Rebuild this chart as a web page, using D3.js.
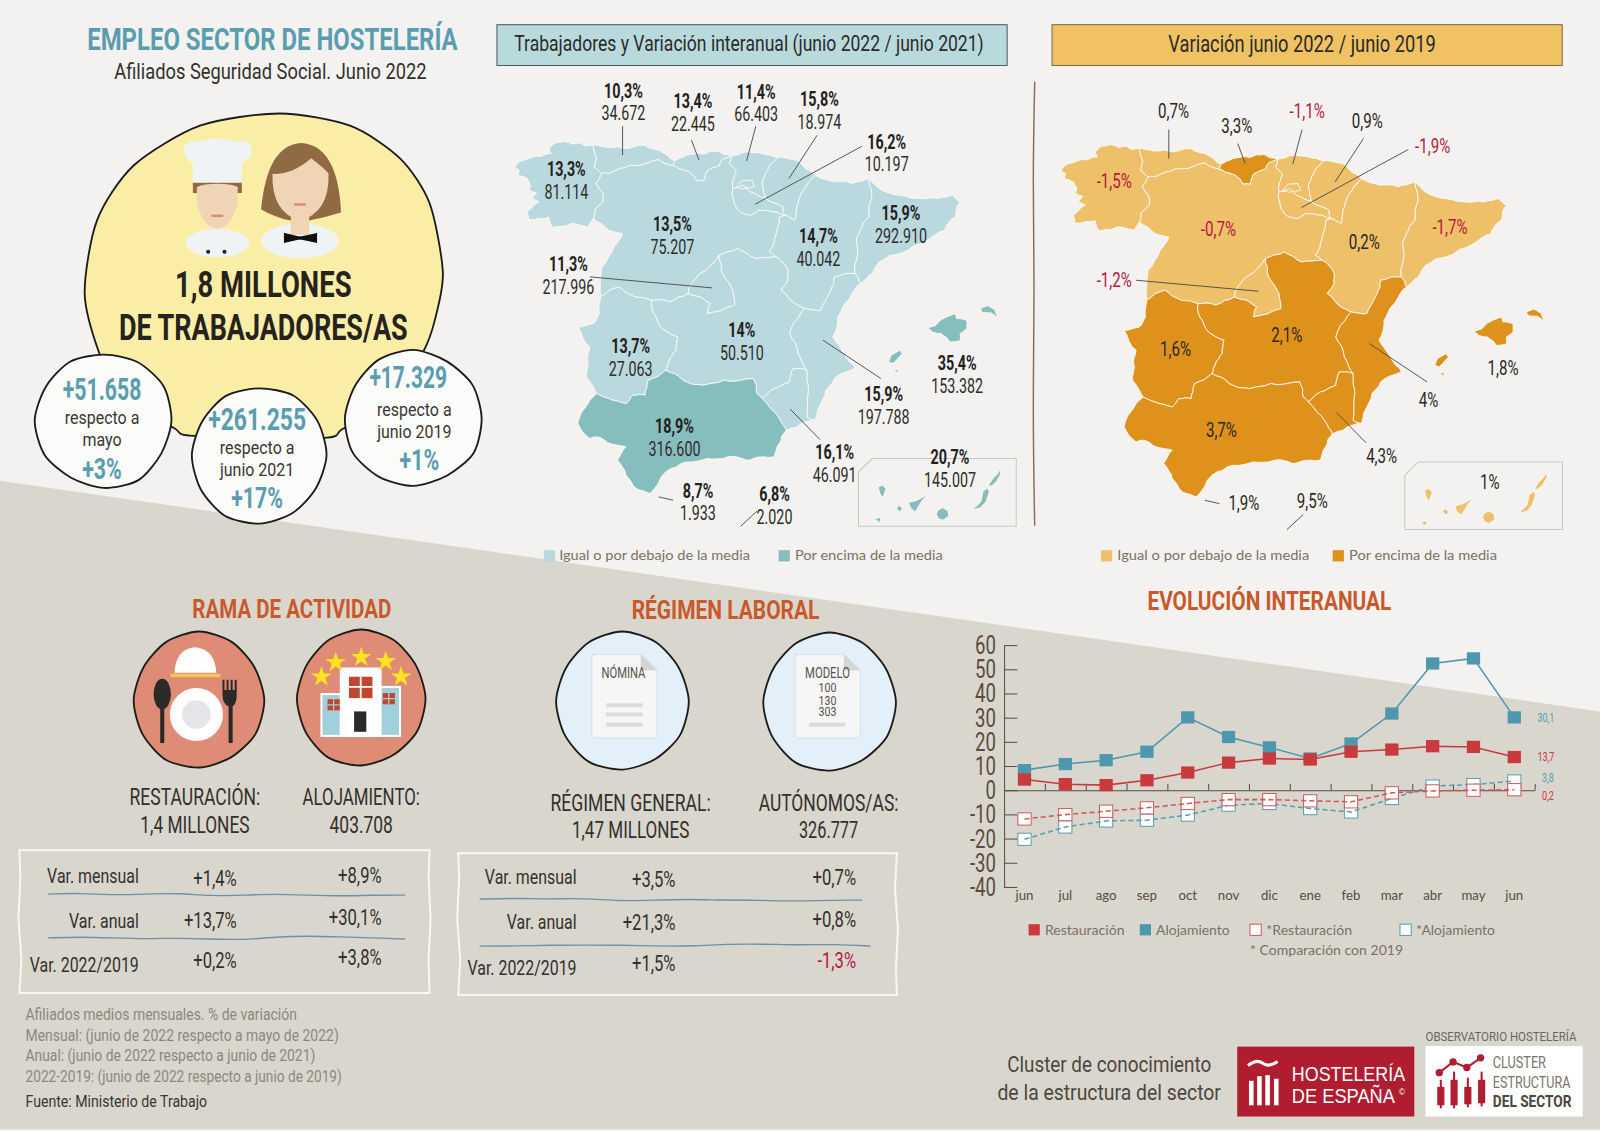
<!doctype html>
<html>
<head>
<meta charset="UTF-8">
<title>Empleo sector de hostelería</title>
<script src="https://d3js.org/d3.v7.min.js"></script>
<style>
  html,body{margin:0;padding:0;background:#f3f2f0}
  svg{display:block}
</style>
</head>
<body>
<svg id="c" width="1600" height="1131" viewBox="0 0 1568 1108"></svg>
<script>
// ---- data ----
var regions = ["Galicia","Asturias","Cantabria","País Vasco","Navarra","La Rioja","Aragón","Cataluña","Castilla y León","Madrid","Castilla-La Mancha","Extremadura","C. Valenciana","Murcia","Andalucía","Baleares","Canarias","Ceuta","Melilla"];
var varInteranual = [13.3,10.3,13.4,11.4,15.8,16.2,14.7,15.9,13.5,11.3,14,13.7,15.9,16.1,18.9,35.4,20.7,8.7,6.8];
var trabajadores = [81114,34672,22445,66403,18974,10197,40042,292910,75207,217996,50510,27063,197788,46091,316600,153382,145007,1933,2020];
var var2019 = [-1.5,0.7,3.3,-1.1,0.9,-1.9,0.2,-1.7,-0.7,-1.2,2.1,1.6,4,4.3,3.7,1.8,1,1.9,9.5];
var mediaInteranual = 17, media2019 = 1;

var meses = ["jun","jul","ago","sep","oct","nov","dic","ene","feb","mar","abr","may","jun"];
var restauracion = [4.4,2.5,2.1,4.1,7.3,11.4,13.1,12.7,15.9,16.8,18.2,17.9,13.7];
var alojamiento = [8.3,10.8,12.4,15.9,30.1,22,17.7,13.1,19.3,31.7,52.4,54.5,30.1];
var restauracion19 = [-11.9,-10.1,-8.7,-7.3,-5.5,-3.9,-3.9,-4.4,-4.8,-1.1,-0.3,0,0.2];
var alojamiento19 = [-20.3,-15.2,-12.7,-12.4,-10.3,-6.2,-5.5,-7.6,-9,-3.4,1.7,2.3,3.8];
var yTicks = [60,50,40,30,20,10,0,-10,-20,-30,-40];

var filasVar = ["Var. mensual","Var. anual","Var. 2022/2019"];
var ramaRest = [1.4,13.7,0.2], ramaAloj = [8.9,30.1,3.8];
var regGeneral = [3.5,21.3,1.5], regAutonomos = [0.7,0.8,-1.3];
var burbujas = ["+51.658","+261.255","+17.329"];
var burbujasPct = ["+3%","+17%","+1%"];
var burbujasTxt = [["respecto a","mayo"],["respecto a","junio 2021"],["respecto a","junio 2019"]];
var notas = ["Afiliados medios mensuales. % de variación","Mensual: (junio de 2022 respecto a mayo de 2022)","Anual: (junio de 2022 respecto a junio de 2021)","2022-2019: (junio de 2022 respecto a junio de 2019)"];

// region outlines (map units)
var shapes = {
 "Galicia":[[[298,225],[280,228],[262,218],[240,222],[215,213],[190,218],[172,235],[178,250],[150,258],[130,258],[105,268],[85,275],[72,292],[85,300],[82,315],[108,325],[118,345],[112,358],[135,368],[122,385],[142,395],[122,412],[108,425],[112,448],[140,445],[170,440],[175,460],[185,472],[215,468],[235,460],[262,465],[285,470],[300,445],[305,420],[328,395],[328,370],[308,340],[325,310],[303,290],[310,262]]],
 "Asturias":[[[298,225],[340,232],[400,235],[450,225],[490,240],[536,272],[531,287],[490,268],[440,285],[410,285],[375,295],[345,310],[325,310],[303,290],[310,262]]],
 "Cantabria":[[[536,272],[571,255],[621,252],[661,242],[701,257],[676,267],[666,287],[631,302],[621,332],[601,332],[581,307],[551,297],[531,287]]],
 "País Vasco":[[[701,257],[745,245],[790,250],[835,262],[800,310],[790,340],[800,385],[755,365],[735,345],[705,355],[705,330],[715,300],[695,280]]],
 "Navarra":[[[835,262],[890,270],[945,315],[920,345],[900,380],[890,420],[885,450],[855,435],[850,410],[800,385],[790,340],[800,310]]],
 "La Rioja":[[[705,355],[735,345],[755,365],[800,385],[850,410],[855,435],[830,425],[780,420],[755,435],[725,425],[708,395]]],
 "Aragón":[[[945,315],[1000,335],[1050,340],[1100,325],[1108,385],[1100,440],[1075,480],[1065,520],[1060,610],[1000,620],[990,660],[960,720],[915,715],[885,700],[845,660],[865,630],[865,600],[830,560],[810,545],[825,510],[840,440],[855,435],[885,450],[890,420],[900,380],[920,345]]],
 "Cataluña":[[[1100,325],[1130,355],[1190,375],[1250,385],[1300,385],[1345,375],[1365,395],[1350,440],[1320,480],[1270,510],[1190,550],[1130,575],[1110,610],[1075,640],[1060,610],[1065,520],[1075,480],[1100,440],[1108,385]]],
 "Castilla y León":[[[325,310],[345,310],[375,295],[410,285],[440,285],[490,268],[531,287],[551,297],[581,307],[601,332],[621,332],[631,302],[666,287],[676,267],[701,257],[695,280],[715,300],[705,330],[705,355],[708,395],[725,425],[755,435],[780,420],[830,425],[855,435],[840,440],[825,510],[810,545],[830,560],[770,565],[720,535],[665,555],[610,610],[585,640],[575,670],[520,695],[470,690],[420,680],[375,650],[321,680],[325,590],[360,530],[385,490],[345,480],[300,445],[305,420],[328,395],[328,370],[308,340]]],
 "Madrid":[[[665,555],[610,610],[585,640],[575,670],[640,700],[630,730],[710,705],[705,660],[675,610]]],
 "Castilla-La Mancha":[[[665,555],[720,535],[770,565],[830,560],[865,600],[865,630],[845,660],[885,700],[915,715],[905,725],[870,790],[895,850],[920,900],[880,895],[870,935],[825,955],[790,985],[775,970],[765,925],[680,930],[620,945],[560,930],[510,900],[520,870],[540,840],[545,800],[500,775],[475,730],[470,690],[520,695],[575,670],[640,700],[630,730],[710,705],[705,660],[675,610]]],
 "Extremadura":[[[321,680],[375,650],[420,680],[470,690],[475,730],[500,775],[545,800],[540,840],[520,870],[510,900],[460,930],[450,975],[415,975],[395,1000],[345,985],[310,970],[280,920],[285,880],[290,830],[255,770],[300,760],[318,730]]],
 "C. Valenciana":[[[1060,610],[1075,640],[1040,690],[1010,740],[995,800],[1040,870],[1060,895],[1000,925],[975,960],[955,1010],[945,1050],[920,1040],[925,960],[920,900],[895,850],[870,790],[905,725],[915,715],[960,720],[990,660],[1000,620]]],
 "Murcia":[[[945,1050],[915,1055],[890,1070],[860,1080],[840,1045],[790,985],[825,955],[870,935],[880,895],[920,900],[925,960],[920,1040]]],
 "Andalucía":[[[860,1080],[840,1120],[825,1160],[790,1160],[745,1170],[690,1160],[630,1165],[570,1175],[510,1205],[465,1270],[425,1255],[395,1215],[370,1170],[395,1130],[370,1125],[315,1100],[290,1105],[255,1060],[285,1000],[310,970],[345,985],[395,1000],[415,975],[450,975],[460,930],[510,900],[560,930],[620,945],[680,930],[765,925],[775,970],[790,985],[840,1045]]],
 "Baleares":[[[1272,772],[1295,765],[1330,738],[1350,730],[1355,745],[1385,752],[1385,775],[1365,790],[1365,812],[1335,815],[1310,790],[1285,785]],[[1423,715],[1445,706],[1465,718],[1475,742],[1455,728],[1430,727]],[[1157,875],[1165,855],[1190,840],[1197,850],[1180,870],[1170,880]],[[1172,897],[1190,900],[1180,906]]],
 "Canarias":[[[1127,1250],[1140,1245],[1150,1255],[1145,1272],[1140,1283],[1132,1270]],[[1115,1348],[1135,1340],[1132,1358],[1125,1352]],[[1180,1314],[1188,1305],[1198,1315],[1190,1325]],[[1215,1297],[1240,1290],[1272,1272],[1255,1290],[1235,1325],[1222,1315]],[[1296,1332],[1300,1320],[1315,1312],[1330,1322],[1332,1338],[1315,1350],[1302,1345]],[[1400,1320],[1425,1295],[1432,1262],[1445,1253],[1450,1265],[1440,1295],[1425,1312]],[[1447,1245],[1460,1225],[1475,1210],[1477,1195],[1484,1210],[1470,1235],[1455,1248]]],
 "Ceuta":[[[472,1285],[478,1285],[476,1289]]],
 "Melilla":[[[722,1368],[727,1368],[725,1372]]]
};
var insetBox = [[1070,1205],[1110,1165],[1528,1165],[1528,1368],[1070,1368],[1070,1205]];
var trevino = [[715,352],[730,332],[760,330],[768,350],[735,356],[715,352]];
var leaders = [[[385,168],[385,255]],[[585,210],[607,270]],[[772,168],[745,272]],[[950,195],[868,325]],[[1080,228],[770,402]],[[290,620],[645,653]],[[967,810],[1135,925]],[[872,1017],[958,1108]],[[490,1280],[532,1290]],[[775,1323],[728,1368]]];

// label layout, same order as regions
var posA = [[555,166],[611,89],[679,99],[741,90],[803,97],[869,139],[802,232],[883,209],[659,220],[557,259],[727,324],[618,339],[866,386],[818,443],[661,418],[938,356],[931,448],[684,481],[759,484]];
var posB = [[1092,177],[1150,109],[1212,123],[1281,109],[1340,118],[1404,143],[1337,237],[1421,222],[1194,224],[1092,274],[1261,328],[1152,342],[1400,392],[1354,447],[1197,421],[1473,360],[1460,472],[1219,493],[1286,491]];

// ---- helpers ----
// no condensed face is installed, so text gets squeezed with textLength
var NARROW = "'Roboto','Noto Sans',sans-serif";
var WIDE = "'Lato','Noto Sans',sans-serif";
var DARK = "#2e2a26", TEAL = "#5a9db0", ORANGE = "#c9592a", ROSE = "#b5193f", BROWN = "#5a4c3d";
var es = d3.formatLocale({decimal:",",thousands:".",grouping:[3],currency:["","€"],minus:"-"});
var fmtInt = es.format(",d");
var fmtPct = function(v){ return es.format(".1~f")(v)+"%"; };
var fmtSigned = function(v){ return es.format("+.1~f")(v)+"%"; };

var svg = d3.select("#c");

function squeeze(sel,k){
  sel.each(function(){
    d3.select(this).attr("textLength",this.getComputedTextLength()*k).attr("lengthAdjust","spacingAndGlyphs");
  });
}
function txt(g,x,y,s,o){
  o = o||{};
  var t = g.append("text").attr("x",x).attr("y",y).text(s)
    .attr("text-anchor",o.anchor||"middle")
    .attr("dominant-baseline","central")
    .attr("font-family",o.font||NARROW)
    .attr("font-size",o.size||16)
    .attr("font-weight",o.weight||"normal")
    .attr("fill",o.fill||DARK);
  if(o.w) t.attr("textLength",o.w).attr("lengthAdjust","spacingAndGlyphs");
  else if(o.k) squeeze(t,o.k);
  return t;
}
var closedCurve = d3.line().curve(d3.curveCardinalClosed.tension(0.2));
function blob(g,cx,cy,rx,ry,wob,fill,stroke){
  var pts = wob.map(function(k,i){
    var a = i/wob.length*2*Math.PI;
    return [cx+rx*k*Math.cos(a), cy+ry*k*Math.sin(a)];
  });
  return g.append("path").attr("d",closedCurve(pts)).attr("fill",fill).attr("stroke",stroke||"#1d1b19").attr("stroke-width",1.8);
}
function poly(g,pts,fill,stroke,sw){
  return g.append("path").attr("d",d3.line()(pts)+"Z").attr("fill",fill).attr("stroke",stroke||"none").attr("stroke-width",sw||0);
}
// jag the traced edges; keyed on the two end points so neighbouring regions stay glued together
function jag(a,b,depth){
  if(depth===0) return [];
  var flip = a[0]>b[0] || (a[0]===b[0] && a[1]>b[1]);
  var p = flip?b:a, q = flip?a:b;
  var h = Math.sin(p[0]*12.9898+p[1]*78.233+q[0]*37.719+q[1]*11.135)*43758.5453;
  h = (h-Math.floor(h))*2-1;
  var dx = q[0]-p[0], dy = q[1]-p[1], len = Math.sqrt(dx*dx+dy*dy);
  if(len<14) return [];
  var off = h*Math.min(7,len*0.09);
  var m = [(p[0]+q[0])/2-dy/len*off,(p[1]+q[1])/2+dx/len*off];
  return jag(a,m,depth-1).concat([m],jag(m,b,depth-1));
}
function roughRing(r){
  var out = [];
  r.forEach(function(pt,i){
    out.push(pt);
    out = out.concat(jag(pt,r[(i+1)%r.length],2));
  });
  out.push(r[0]);
  return out;
}

// ---- background ----
poly(svg,[[0,471],[1568,697],[1568,1106.5],[0,1106.5]],"#d9d6ce");

// ---- header block ----
txt(svg,267,39,"EMPLEO SECTOR DE HOSTELERÍA",{size:30,weight:"bold",fill:TEAL,w:363});
txt(svg,265,70,"Afiliados Seguridad Social. Junio 2022",{size:21,fill:"#33302c",w:306});

// big yellow blob
var bigBlob = [[274,111],[343,123],[392,155],[421,199],[434,267],[426,314],[415,344],[380,400],[336,420],[317,429],[190,427],[170,419],[120,390],[98,348],[83,288],[95,216],[131,162],[196,123]];
svg.append("path").attr("d",closedCurve(bigBlob)).attr("fill","#faeea6").attr("stroke","#1d1b19").attr("stroke-width",1.8);

// chef
var chef = svg.append("g");
chef.append("ellipse").attr("cx",213).attr("cy",238).attr("rx",31).attr("ry",14).attr("fill","#eff3f6");
chef.append("rect").attr("x",189).attr("y",178).attr("width",48).attr("height",11).attr("fill","#8f6a42");
chef.append("path").attr("d","M193,183 Q200,180 213,180 Q226,180 233,183 L233,198 Q228,222 213,224 Q198,222 193,198 Z").attr("fill","#f0d4b6");
chef.append("path").attr("d","M189,179 L237,179 L237,160 Q247,154 247,146 Q245,136 228,138 Q213,133 198,138 Q181,136 180,147 Q181,155 189,160 Z").attr("fill","#eff3f6");
chef.append("rect").attr("x",207).attr("y",210).attr("width",12).attr("height",2.5).attr("rx",1).attr("fill","#df8a78");
chef.selectAll("circle.b").data([204,220]).enter().append("circle").attr("cx",function(d){return d;}).attr("cy",246.5).attr("r",2).attr("fill","#222");

// waitress
var girl = svg.append("g");
girl.append("path").attr("d","M256,204 Q262,142 295,140 Q330,142 334,204 L334,208 Q318,213 303,216 L285,216 Q270,213 256,205 Z").attr("fill","#8f6a42");
girl.append("ellipse").attr("cx",294).attr("cy",236).attr("rx",38).attr("ry",17).attr("fill","#eff3f6");
girl.append("rect").attr("x",285).attr("y",210).attr("width",18).attr("height",20).attr("fill","#f0d4b6");
girl.append("path").attr("d","M267,170 Q285,172 305,155 Q318,165 322,170 Q323,208 294,216 Q266,208 267,170 Z").attr("fill","#f0d4b6");
girl.append("rect").attr("x",288).attr("y",199).attr("width",12).attr("height",2.5).attr("rx",1).attr("fill","#df8a78");
girl.append("path").attr("d","M279,229 L292,232 L296,232 L310,229 L310,237 L296,234 L292,234 L279,237 Z").attr("fill","#111").attr("stroke","#111").attr("stroke-width",1.5);

txt(svg,258,279,"1,8 MILLONES",{size:36,weight:"bold",fill:"#26231f",w:173});
txt(svg,258,321,"DE TRABAJADORES/AS",{size:36,weight:"bold",fill:"#26231f",w:283});

// the three small bubbles
var wobA = [1,.98,1.02,1.0,.98,1.02,1.03,1.0,1.01,.98,1.0,1.02];
blob(svg,102,412,66,66,wobA,"#fbfbfa");
blob(svg,254,446,66,67,[1,.97,.98,1,1.02,1.0,1,.98,1.0,.98,1.01,1.0],"#fbfbfa");
blob(svg,405,410,67,66,[1,1.02,.98,1,1,1.02,1,.98,1.01,1.02,.98,1],"#fbfbfa");
[[100,382,77],[252,411,96],[400,370,76]].forEach(function(p,i){
  txt(svg,p[0],p[1],burbujas[i],{size:31,weight:"bold",fill:TEAL,w:p[2]});
});
[[100,409,431],[252,438,460],[406,401,423]].forEach(function(p,i){
  txt(svg,p[0],p[1],burbujasTxt[i][0],{size:18,fill:"#3a3632",k:.87});
  txt(svg,p[0],p[2],burbujasTxt[i][1],{size:18,fill:"#3a3632",k:.87});
});
[[100,459],[252,488],[411,451]].forEach(function(p,i){
  txt(svg,p[0],p[1],burbujasPct[i],{size:29,weight:"bold",fill:TEAL,k:.72});
});

// ---- maps ----
function drawMap(ox,dy,values,media,colLow,colHigh,pos,twoLines){
  var proj = d3.geoTransform({point:function(x,y){ this.stream.point(ox+x*0.3375, 68.6+dy+y*0.3267); }});
  var path = d3.geoPath(proj);
  var g = svg.append("g");
  g.append("path").datum({type:"LineString",coordinates:insetBox}).attr("d",path)
    .attr("fill","none").attr("stroke","#c9c7c1").attr("stroke-width",1);
  g.selectAll("path.r").data(regions).enter().append("path").attr("class","r")
    .attr("d",function(d){ return path({type:"MultiPolygon",coordinates:shapes[d].map(function(s){
      return [s.length>8 ? roughRing(s) : s.concat([s[0]])];
    })}); })
    .attr("fill",function(d,i){ return values[i]>media ? colHigh : colLow; })
    .attr("stroke","#f8f8f6").attr("stroke-width",0.9).attr("stroke-linejoin","round");
  g.append("path").datum({type:"LineString",coordinates:trevino}).attr("d",path)
    .attr("fill","none").attr("stroke","#f8f8f6").attr("stroke-width",0.9);
  g.selectAll("path.l").data(leaders).enter().append("path").attr("class","l")
    .attr("d",function(d){ return path({type:"LineString",coordinates:d}); })
    .attr("fill","none").attr("stroke","#4a4a48").attr("stroke-width",0.9);
  regions.forEach(function(r,i){
    var p = pos[i];
    if(twoLines){
      txt(g,p[0],p[1],fmtPct(values[i]),{size:19,weight:"bold",fill:"#23211e",k:.74});
      txt(g,p[0],p[1]+22,fmtInt(trabajadores[i]),{size:20,fill:"#2f2d2a",k:.7});
    } else {
      txt(g,p[0],p[1],fmtPct(values[i]),{size:20,fill:values[i]<0?ROSE:"#2a2724",k:.74});
    }
  });
}
drawMap(480.2,0,varInteranual,mediaInteranual,"#b9d9de","#86bdbd",posA,true);
drawMap(1015.5,3.3,var2019,media2019,"#eec069","#de921c",posB,false);

// header boxes and divider
svg.append("rect").attr("x",487).attr("y",24).attr("width",500).attr("height",40).attr("fill","#b9dadd").attr("stroke","#4a5a5e").attr("stroke-width",1);
txt(svg,734,42,"Trabajadores y Variación interanual (junio 2022 / junio 2021)",{size:21,fill:"#2b2b2a",w:460});
svg.append("rect").attr("x",1031).attr("y",24).attr("width",500).attr("height",40).attr("fill","#f0c264").attr("stroke","#7a6a48").attr("stroke-width",1);
txt(svg,1276,43,"Variación junio 2022 / junio 2019",{size:23,fill:"#2b2b2a",w:262});
svg.append("path").attr("d",d3.line().curve(d3.curveBasis)([[1014,80],[1012,180],[1014,280],[1012,400],[1014,515]]))
  .attr("fill","none").attr("stroke","#8a6a50").attr("stroke-width",1.4);

// map legends
[[533,"#b9d9de",548,187,"Igual o por debajo de la media"],[763,"#86bdbd",779,145,"Por encima de la media"],
 [1079,"#eec069",1095,188,"Igual o por debajo de la media"],[1306,"#de921c",1322,145,"Por encima de la media"]].forEach(function(l){
  svg.append("rect").attr("x",l[0]).attr("y",539).attr("width",11).attr("height",11).attr("fill",l[1]);
  txt(svg,l[2],544,l[4],{anchor:"start",font:WIDE,size:13,fill:"#7a7166",w:l[3]});
});

// ---- section titles ----
txt(svg,286,596,"RAMA DE ACTIVIDAD",{size:26,weight:"bold",fill:ORANGE,w:195});
txt(svg,711,597,"RÉGIMEN LABORAL",{size:26,weight:"bold",fill:ORANGE,w:184});
txt(svg,1244,588,"EVOLUCIÓN INTERANUAL",{size:26,weight:"bold",fill:ORANGE,w:239});

// ---- icons ----
var wobB = [1,1.0,.98,1,1.02,1,1,.98,1,1.02,1,.98];
blob(svg,195,686,64,66,wobB,"#df8c77");
blob(svg,354,684,63,66,wobB,"#df8c77");
blob(svg,610,687,65,67,wobB,"#e3f0fa");
blob(svg,813,688,65,67,wobB,"#e3f0fa");

// plate, cloche, spoon, fork
var ic = svg.append("g");
ic.append("circle").attr("cx",192.5).attr("cy",700).attr("r",26).attr("fill","#fff");
ic.append("circle").attr("cx",192.5).attr("cy",700).attr("r",14).attr("fill","#e4e5e8");
ic.append("path").attr("d","M171,659 Q172,636 191,634 Q211,636 212,659 Z").attr("fill","#fdfdfb");
ic.append("rect").attr("x",167).attr("y",660).attr("width",49).attr("height",3.5).attr("fill","#f2c45c");
ic.append("ellipse").attr("cx",159).attr("cy",680).attr("rx",8.5).attr("ry",15).attr("fill","#2c2a28");
ic.append("rect").attr("x",157).attr("y",690).attr("width",4).attr("height",38).attr("fill","#2c2a28");
ic.append("path").attr("d","M218,676 V666 h2 V676 h2 V666 h2 V676 h2 V666 h2 V676 h2 V666 h2 V680 Q232,690 228,692 V728 h-4 V692 Q218,690 218,680 Z").attr("fill","#2c2a28");
// hotel
ic.append("rect").attr("x",314).attr("y",679).attr("width",21).attr("height",43).attr("fill","#fff");
ic.append("rect").attr("x",369).attr("y",672).attr("width",24).attr("height",50).attr("fill","#fff");
ic.append("rect").attr("x",316).attr("y",681).attr("width",17).attr("height",39).attr("fill","#9fd0dc");
ic.append("rect").attr("x",371).attr("y",674).attr("width",20).attr("height",46).attr("fill","#9fd0dc");
ic.append("rect").attr("x",333).attr("y",654).attr("width",41).attr("height",68).attr("rx",3).attr("fill","#fff");
ic.append("rect").attr("x",342).attr("y",663).attr("width",23).attr("height",21).attr("fill","#c2452d");
ic.append("path").attr("d","M342,673 h23 M353.5,663 v21").attr("stroke","#fff").attr("stroke-width",1.8);
ic.append("rect").attr("x",347).attr("y",697).attr("width",12).attr("height",20).attr("fill","#2c2a28");
ic.append("rect").attr("x",321).attr("y",685).attr("width",12).attr("height",11).attr("fill","#c2452d");
ic.append("rect").attr("x",375).attr("y",679).attr("width",12).attr("height",11).attr("fill","#c2452d");
ic.append("path").attr("d","M321,690.5 h12 M327,685 v11 M375,684.5 h12 M381,679 v11").attr("stroke","#9fd0dc").attr("stroke-width",1.2);
var star = d3.symbol().type(d3.symbolStar).size(125);
[[315,663],[329,649],[354,644],[378,648],[393,663]].forEach(function(p){
  ic.append("path").attr("d",star()).attr("transform","translate("+p[0]+","+p[1]+")").attr("fill","#ffe21f");
});
// documents
function doc(x,y){
  ic.append("path").attr("d","M"+x+","+y+" h48 l16,16 v63 a3,3 0 0 1 -3,3 h-58 a3,3 0 0 1 -3,-3 v-76 a3,3 0 0 1 3,-3 Z").attr("fill","#f6f6f6").attr("stroke","#d8dde0").attr("stroke-width",1);
  ic.append("path").attr("d","M"+(x+48)+","+y+" l16,16 h-16 Z").attr("fill","#d3d6d8");
}
doc(580,641); doc(779,641);
txt(ic,611,659,"NÓMINA",{size:14,fill:"#55534f",w:43});
txt(ic,811,659,"MODELO",{size:14,fill:"#55534f",w:44});
txt(ic,811,674,"100",{size:13,fill:"#55534f",k:.8});
txt(ic,811,686,"130",{size:13,fill:"#55534f",k:.8});
txt(ic,811,697,"303",{size:13,fill:"#55534f",k:.8});
[[594,689,36],[594,698,36],[594,708,36],[793,708,35]].forEach(function(r){
  ic.append("rect").attr("x",r[0]).attr("y",r[1]).attr("width",r[2]).attr("height",4).attr("fill","#dcdcdc");
});

// ---- captions ----
[[191,781,"RESTAURACIÓN:",128],[191,808,"1,4 MILLONES",107],[354,781,"ALOJAMIENTO:",115],[354,808,"403.708",62],
 [618,787,"RÉGIMEN GENERAL:",157],[618,813,"1,47 MILLONES",115],[812,787,"AUTÓNOMOS/AS:",137],[812,813,"326.777",58]].forEach(function(c){
  txt(svg,c[0],c[1],c[2],{size:23,fill:"#33302c",w:c[3]});
});

// ---- variation tables ----
function wavy(x0,x1,y,offs){
  var sc = d3.scaleLinear().domain([0,offs.length-1]).range([x0,x1]);
  svg.append("path").attr("d",d3.line().curve(d3.curveBasis)(offs.map(function(o,i){return [sc(i),y+o];})))
    .attr("fill","none").attr("stroke","#6f8fa8").attr("stroke-width",1.3);
}
poly(svg,[[19,833],[421,833],[420,860],[422,900],[420,940],[421,973],[19,973],[21,940],[18,900],[20,860]],"none","#f7f7f5",2);
poly(svg,[[449,836],[879,836],[877,870],[880,910],[878,950],[879,975],[449,975],[451,940],[448,900],[450,860]],"none","#f7f7f5",2);
wavy(47,397,876,[0,-1,1,0,-1,2,1,0,1,2,1,1]);
wavy(47,397,919,[0,-1,0,1,0,1,2,-1,-2,-1,0,1]);
wavy(470,845,881,[0,-1,0,-1,2,1,0,1,1,2,1,1]);
wavy(470,853,926,[1,1,0,0,0,1,1,-1,-1,0,-1,1]);

[[136,[858,902,946]],[565,[859,903,948]]].forEach(function(c){
  c[1].forEach(function(y,i){ txt(svg,c[0],y,filasVar[i],{anchor:"end",size:20,fill:"#33302c",k:.78}); });
});
function columna(vals,x,ys){
  vals.forEach(function(v,i){
    txt(svg,x,ys[i],fmtSigned(v),{anchor:"end",size:22,fill:v<0?ROSE:"#33302c",k:.74});
  });
}
columna(ramaRest,232,[860,901,941]);
columna(ramaAloj,374,[857,898,938]);
columna(regGeneral,662,[861,903,944]);
columna(regAutonomos,839,[859,900,941]);

// ---- footnotes ----
[[994,266],[1014,307],[1034,284],[1054,310]].forEach(function(p,i){
  txt(svg,25,p[0],notas[i],{anchor:"start",size:17,fill:"#8b8880",w:p[1]});
});
txt(svg,25,1079,"Fuente: Ministerio de Trabajo",{anchor:"start",size:17,fill:"#3a3632",w:178});

// ---- line chart ----
var chart = svg.append("g");
var y = d3.scaleLinear().domain([-40,60]).range([869,632]);
var xBand = d3.scaleBand().domain(d3.range(meses.length)).range([984,1504]);
var xEdge = d3.scaleLinear().domain([0,13]).range([984,1504]);
var xc = function(i){ return xBand(i)+xBand.bandwidth()/2; };

var yAxis = chart.append("g").attr("transform","translate(984,0)")
  .call(d3.axisLeft(y).tickValues(yTicks).tickSize(-13).tickPadding(8).tickSizeOuter(0).tickFormat(function(d){return d;}));
yAxis.selectAll("text").attr("font-family",NARROW).attr("font-size",26).attr("fill",BROWN).call(squeeze,.7);
yAxis.selectAll("line,path").attr("stroke",BROWN).attr("stroke-width",1);

var zeroAxis = chart.append("g").attr("transform","translate(0,"+y(0)+")")
  .call(d3.axisTop(xEdge).tickValues(d3.range(1,14)).tickSize(6).tickSizeOuter(0).tickFormat(""));
zeroAxis.selectAll("line,path").attr("stroke",BROWN).attr("stroke-width",1);

var xAxis = chart.append("g").attr("transform","translate(0,870)")
  .call(d3.axisBottom(xBand).tickSize(0).tickPadding(3).tickFormat(function(i){return meses[i];}));
xAxis.select(".domain").remove();
xAxis.selectAll("text").attr("font-family",WIDE).attr("font-size",13).attr("fill",BROWN);

var line = d3.line().x(function(d,i){return xc(i);}).y(function(d){return y(d);});
function serie(vals,color,hollow){
  var g = chart.append("g");
  var sq = g.selectAll("rect").data(vals).enter().append("rect")
    .attr("x",function(d,i){return xc(i)-6.5;}).attr("y",function(d){return y(d)-6;})
    .attr("width",13).attr("height",12);
  if(hollow) sq.attr("fill","#fff").attr("stroke",color).attr("stroke-width",1);
  else sq.attr("fill",color);
  var l = g.append("path").attr("d",line(vals)).attr("fill","none").attr("stroke",color).attr("stroke-width",1.5);
  if(hollow) l.attr("stroke-dasharray","5 3");
}
serie(alojamiento19,"#5a9db0",true);
serie(restauracion19,"#cf5a5a",true);
serie(alojamiento,"#4e97ad",false);
serie(restauracion,"#c93a3f",false);

[[703,"30,1","#5a9db0",1515],[741,"13,7","#c93a3f",1515],[762,"3,8","#5a9db0",1517],[779,"0,2","#c93a3f",1517]].forEach(function(e){
  txt(chart,e[3],e[0],e[1],{size:13,fill:e[2],k:.68});
});

// chart legend
[[1008,"#c93a3f",false,1024,"Restauración",78],[1117,"#4e97ad",false,1133,"Alojamiento",72],
 [1225,"#cf5a5a",true,1241,"*Restauración",84],[1372,"#5a9db0",true,1388,"*Alojamiento",77]].forEach(function(l){
  var r = chart.append("rect").attr("x",l[0]).attr("y",905.5).attr("width",11).attr("height",11);
  if(l[2]) r.attr("fill","#fff").attr("stroke",l[1]); else r.attr("fill",l[1]);
  txt(chart,l[3],911,l[4],{anchor:"start",font:WIDE,size:13,fill:"#7a7166",w:l[5]});
});
txt(chart,1225,931,"* Comparación con 2019",{anchor:"start",font:WIDE,size:13,fill:"#7a7166",w:150});

// ---- footer ----
txt(svg,1087,1043,"Cluster de conocimiento",{size:21,fill:"#4d473f",w:200});
txt(svg,1087,1070,"de la estructura del sector",{size:21,fill:"#4d473f",w:219});

svg.append("rect").attr("x",1212.5).attr("y",1025.5).attr("width",173.5).attr("height",68.5).attr("fill","#b01c30");
[[1224,1059],[1232,1054.5],[1240,1053.5],[1248.5,1057]].forEach(function(b){
  svg.append("rect").attr("x",b[0]).attr("y",b[1]).attr("width",4.5).attr("height",1083-b[1]).attr("fill","#fff");
});
svg.append("path").attr("d","M1223,1044 Q1232,1037 1238,1042 Q1244,1046 1252,1040").attr("fill","none").attr("stroke","#fff").attr("stroke-width",3);
txt(svg,1266,1052,"HOSTELERÍA",{anchor:"start",font:"'Liberation Sans',sans-serif",size:19,fill:"#fff",w:111});
txt(svg,1266,1074,"DE ESPAÑA",{anchor:"start",font:"'Liberation Sans',sans-serif",size:19,fill:"#fff",w:101});
txt(svg,1374,1070,"©",{font:"'Liberation Sans',sans-serif",size:8,fill:"#fff"});

txt(svg,1471,1016,"OBSERVATORIO HOSTELERÍA",{size:13,fill:"#6a665f",w:148});
svg.append("rect").attr("x",1397).attr("y",1025).attr("width",154).attr("height",69).attr("fill","#fff");
var cl = svg.append("g");
var puntosLogo = [[1410.5,1051],[1424,1040.5],[1437.5,1046],[1451,1036.5]];
cl.append("path").attr("d",d3.line()(puntosLogo)).attr("fill","none").attr("stroke","#b01c30").attr("stroke-width",2);
puntosLogo.forEach(function(p){
  cl.append("circle").attr("cx",p[0]).attr("cy",p[1]).attr("r",3.6).attr("fill","#b01c30");
});
[[1412,1065,1083,1058,1086],[1425,1058,1083,1050,1086],[1438.5,1065,1082,1056,1085],[1452,1058,1081,1050,1084]].forEach(function(c){
  cl.append("rect").attr("x",c[0]-1).attr("y",c[3]).attr("width",2).attr("height",c[4]-c[3]).attr("fill","#b01c30");
  cl.append("rect").attr("x",c[0]-3.5).attr("y",c[1]).attr("width",7).attr("height",c[2]-c[1]).attr("fill","#b01c30");
});
txt(svg,1463,1041,"CLUSTER",{anchor:"start",size:17,fill:"#77736c",w:52});
txt(svg,1463,1060,"ESTRUCTURA",{anchor:"start",size:17,fill:"#77736c",w:76});
txt(svg,1463,1079,"DEL SECTOR",{anchor:"start",size:17,weight:"bold",fill:"#4a4640",w:77});
</script>
</body>
</html>
